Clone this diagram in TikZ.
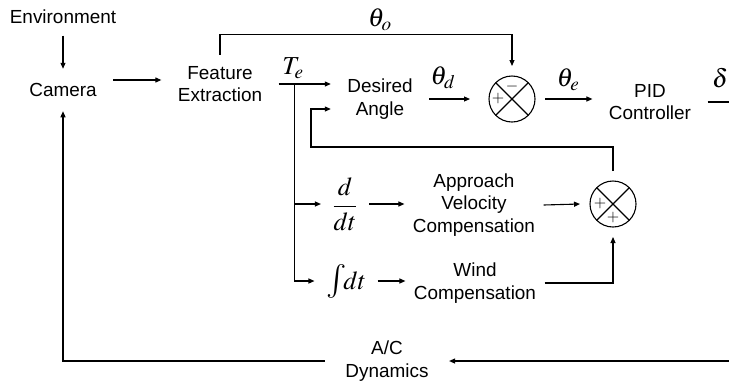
\documentclass[tikz,border=0pt]{standalone}
\usepackage{amsmath}
\usepackage{mathptmx}
\usepackage{fontspec}
\setmainfont{Liberation Sans}
\usetikzlibrary{arrows.meta,calc}

\begin{document}
\begin{tikzpicture}[x=1bp,y=-1bp,>={Triangle[length=6bp,width=5bp]},line width=1.1bp,
   every node/.style={font=\fontsize{19}{22.5}\selectfont},
   blk/.style={align=center,inner xsep=16bp,inner ysep=11bp},
   mth/.style={font=\fontsize{26}{28}\selectfont},
   sum/.style={circle,draw,minimum size=46bp,inner sep=0pt,outer sep=10bp,
     path picture={\draw (path picture bounding box.north west) -- (path picture bounding box.south east)
                         (path picture bounding box.north east) -- (path picture bounding box.south west);}},
   sgn/.style={inner sep=0pt,font=\fontsize{16}{16}\selectfont}]
  \useasboundingbox (0,0) rectangle (729,383);

  \node[blk] (env) at (63,17) {Environment};
  \node[blk,inner ysep=14bp] (cam) at (63,90) {Camera};
  \node[blk] (feat) at (220,84) {Feature\\Extraction};
  \node[blk] (des) at (380,99) {Desired\\Angle};
  \node[sum] (s1) at (512,99) {};
  \node[blk] (pid) at (650,102) {PID\\Controller};
  \node[blk,mth,inner xsep=11bp] (der) at (345,204) {$\dfrac{d}{dt}$};
  \node[blk,mth,inner xsep=11bp] (itg) at (346,281) {{\fontsize{34}{34}\selectfont$\int$}$\!dt$};
  \node[blk,inner xsep=8bp] (appr) at (474,205) {Approach\\Velocity\\Compensation};
  \node[blk,inner xsep=8bp] (wind) at (475,283) {Wind\\Compensation};
  \node[sum] (s2) at (613,204) {};
  \node[blk,inner xsep=20bp] (dyn) at (387,361) {A/C\\Dynamics};

  \node[mth] (tho) at (380,20) {$\theta_o$};
  \node[mth] (te) at (293,68) {$T_e$};
  \node[mth] (thd) at (443,78) {$\theta_d$};
  \node[mth] (the) at (568,80) {$\theta_e$};
  \node[mth] (dlt) at (720,78) {$\delta$};

  \node[sgn] (s1a) at ([xshift=-14bp]s1.center) {$+$};
  \node[sgn] (s1b) at ([yshift=12bp]s1.center) {$-$};
  \node[sgn] (s2a) at ([xshift=-13bp]s2.center) {$+$};
  \node[sgn] (s2b) at ([yshift=-14bp]s2.center) {$+$};

  \coordinate (cf) at ([yshift=10bp]cam.east);
  \coordinate (tap) at ($(feat.east)+(16,0)$);
  \coordinate (lp) at (311,147);
  \coordinate (out) at (729,102);
  \coordinate (in) at (729,361);

  \draw[->] (env) -- (cam);
  \draw[->] (cf) -- (cf -| feat.west);
  \draw[->] (feat.north) -- ++(0,-20) -| (s1.north);
  \draw[->] (feat.east) -- (feat.east -| des.west);
  \draw[->] (tap |- der.west) -- (der.west);
  \draw[->] (tap) |- (itg.west);
  \draw[->,shorten >=9bp] (des.east |- s1) -- (s1.west);
  \draw[->] (s1.east) -- (s1.east -| pid.west);
  \draw (pid.east) -- (out);
  \draw[->] (der.east) -- (appr.west |- der.east);
  \draw[->] (itg.east) -- (wind.west |- itg.east);
  \draw[->] (appr.east) -- (s2.west);
  \draw[->] (wind.east) -| (s2.south);
  \draw[->] (s2.north) |- (lp) |- ([yshift=-10bp]des.west);
  \draw[->] (in) -- (dyn.east);
  \draw[->] (dyn.west) -| (cam.south);
\end{tikzpicture}
\end{document}
